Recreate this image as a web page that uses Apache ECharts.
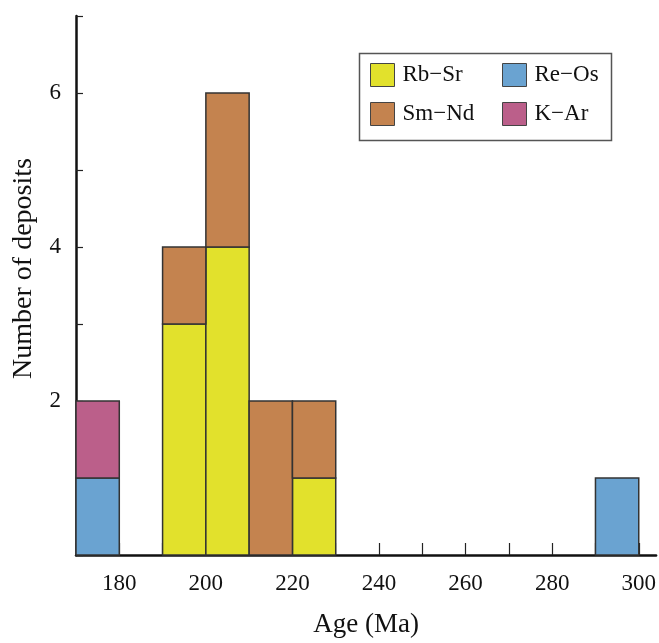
<!DOCTYPE html>
<html><head><meta charset="utf-8">
<script src="https://cdn.jsdelivr.net/npm/echarts@6/dist/echarts.min.js"></script>
<style>html,body{margin:0;padding:0;background:#fff}#c{width:659px;height:643px}</style>
</head><body><div id="c"></div>
<script>
// Bin start ages (Ma); each bin is 10 Ma wide
var binStarts = [170, 190, 200, 210, 220, 290];
var binWidth = 10;
// Number of deposits per method in each bin (stack order: bottom to top)
var reOs = [1, 0, 0, 0, 0, 1];
var rbSr = [0, 3, 4, 0, 1, 0];
var smNd = [0, 1, 2, 2, 1, 0];
var kAr  = [1, 0, 0, 0, 0, 0];
var seriesNames = ['Re−Os', 'Rb−Sr', 'Sm−Nd', 'K−Ar'];
var seriesValues = [reOs, rbSr, smNd, kAr];
var seriesColors = ['#6aa3d1', '#e2e12c', '#c4834f', '#bb5f8a'];
var xTickLabels = [180, 200, 220, 240, 260, 280, 300];
var yTickLabels = [2, 4, 6];

var FONT = '"Liberation Serif","Times New Roman",serif';
var base = binStarts.map(function(){return 0;});
var series = seriesNames.map(function(name, si){
  var data = [];
  seriesValues[si].forEach(function(v, i){
    if (v > 0) { data.push([binStarts[i], base[i], base[i] + v]); }
    base[i] += v;
  });
  return {
    type: 'custom', name: name, data: data,
    itemStyle: {color: seriesColors[si], borderColor: '#333', borderWidth: 1.5},
    encode: {x: 0, y: [1, 2]},
    renderItem: function(params, api){
      var x0 = api.value(0), y0 = api.value(1), y1 = api.value(2);
      var p0 = api.coord([x0, y0]);
      var p1 = api.coord([x0 + binWidth, y1]);
      return {
        type: 'rect',
        shape: {x: p0[0], y: p1[1], width: p1[0] - p0[0], height: p0[1] - p1[1]},
        style: {fill: seriesColors[si], stroke: '#333', lineWidth: 1.5}
      };
    }
  };
});

var chart = echarts.init(document.getElementById('c'));
var legendText = {fontFamily: FONT, fontSize: 23, color: '#111', padding: [0, 0, 0, 3]};
chart.setOption({
  animation: false,
  grid: {left: 76, right: 2, top: 16, bottom: 84},
  xAxis: {
    type: 'value', min: 170, max: 304, interval: 10,
    axisLine: {lineStyle: {color: '#111', width: 2.5}},
    axisTick: {inside: true, length: 12, lineStyle: {color: '#222', width: 1.2}},
    splitLine: {show: false},
    axisLabel: {
      showMaxLabel: false, margin: 17,
      fontFamily: FONT, fontSize: 23, color: '#111',
      formatter: function(v){ return xTickLabels.indexOf(v) >= 0 ? String(v) : ''; }
    },
    name: 'Age (Ma)', nameLocation: 'middle', nameGap: 56,
    nameTextStyle: {fontFamily: FONT, fontSize: 27, color: '#111'}
  },
  yAxis: {
    type: 'value', min: 0, max: 7, interval: 1,
    axisLine: {lineStyle: {color: '#111', width: 2.5}},
    axisTick: {inside: true, length: 7, lineStyle: {color: '#222', width: 1.2}},
    splitLine: {show: false},
    axisLabel: {
      margin: 15, fontFamily: FONT, fontSize: 23, color: '#111',
      formatter: function(v){ return yTickLabels.indexOf(v) >= 0 ? String(v) : ''; }
    },
    name: 'Number of deposits', nameLocation: 'middle', nameGap: 38,
    nameTextStyle: {fontFamily: FONT, fontSize: 28, color: '#111', padding: [0, 0, 0, 34]}
  },
  legend: [
    {data: ['Rb−Sr', 'Sm−Nd'], orient: 'vertical', left: 365, top: 58,
     itemWidth: 24, itemHeight: 23, itemGap: 15, icon: 'rect',
     itemStyle: {borderColor: '#444', borderWidth: 1}, textStyle: legendText},
    {data: ['Re−Os', 'K−Ar'], orient: 'vertical', left: 497, top: 58,
     itemWidth: 24, itemHeight: 23, itemGap: 15, icon: 'rect',
     itemStyle: {borderColor: '#444', borderWidth: 1}, textStyle: legendText}
  ],
  graphic: [{type: 'rect', left: 357, top: 51, shape: {width: 252, height: 87},
             style: {fill: 'none', stroke: '#555', lineWidth: 1.5}, silent: true}],
  series: series
});
</script></body></html>
